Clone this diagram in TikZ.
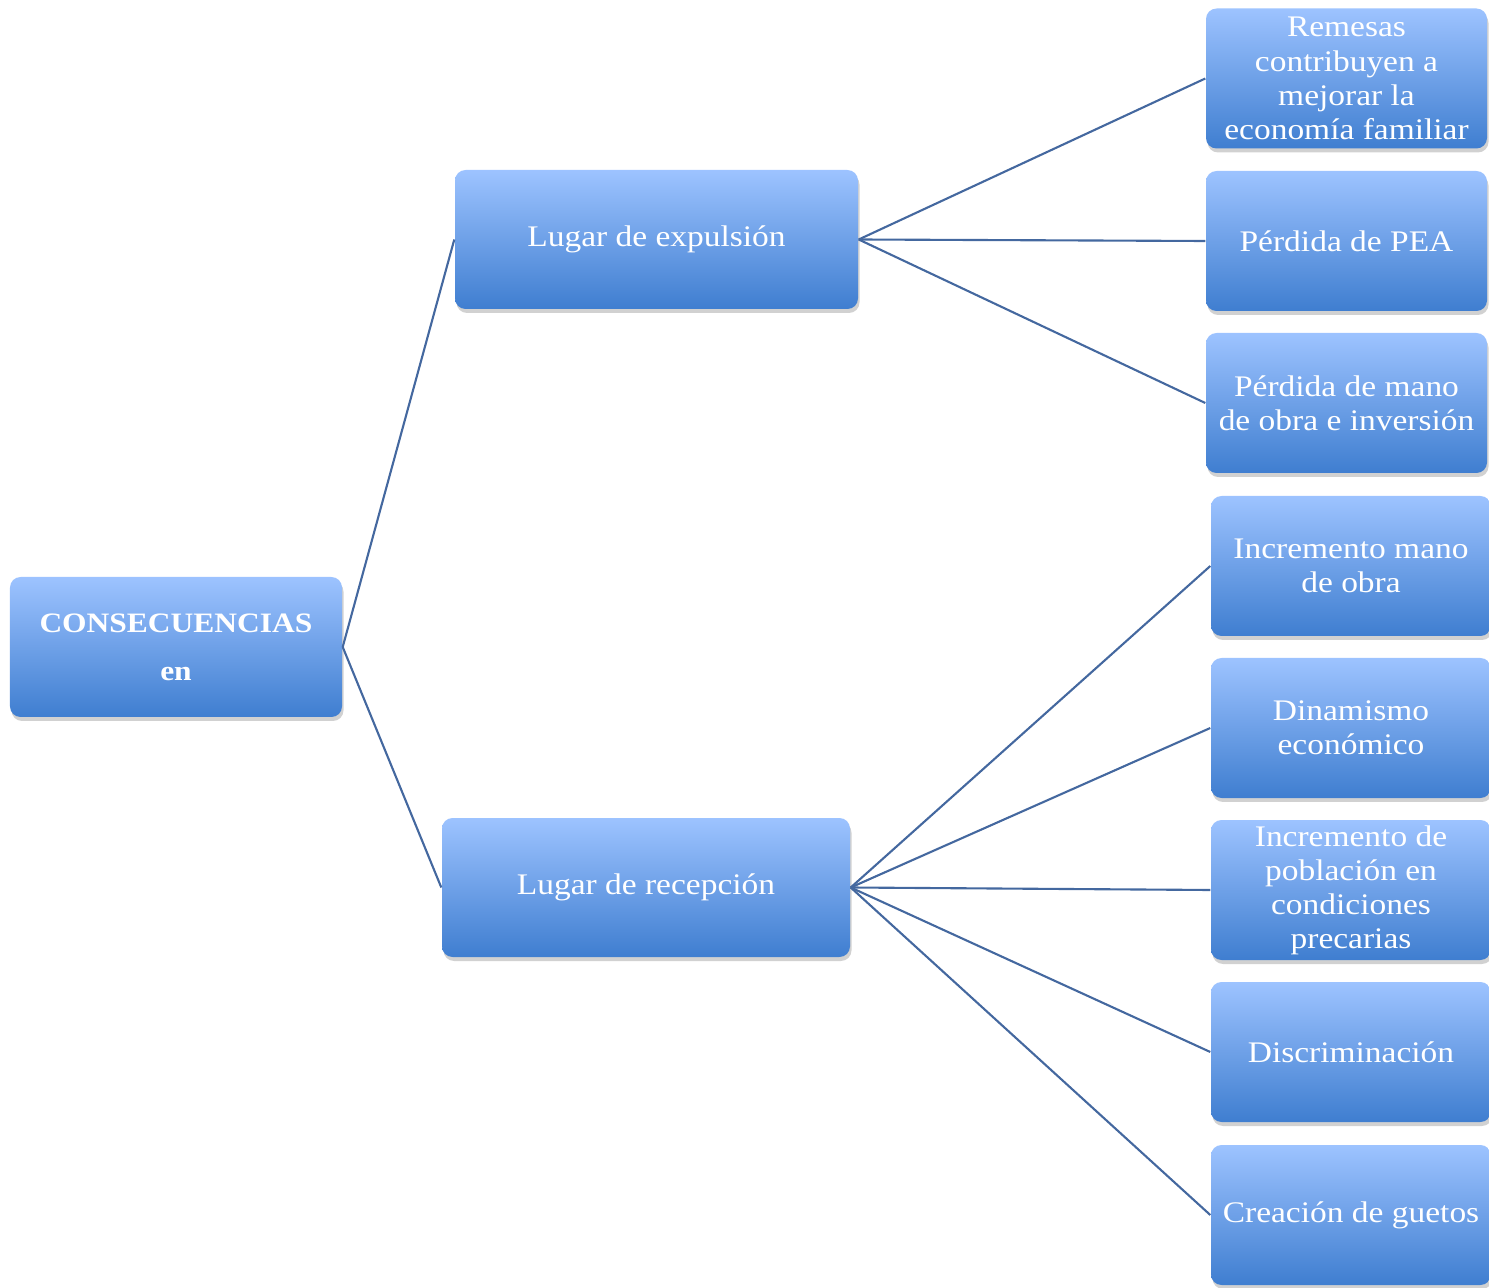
\documentclass[tikz,border=0pt]{standalone}
\usepackage{fontspec}
\setmainfont[FakeStretch=1.12]{Liberation Serif}
\usepackage{xcolor}
\usetikzlibrary{positioning,shadows}

\definecolor{boxTop}{HTML}{9DC3FF}
\definecolor{boxBot}{HTML}{3F7ED0}
\definecolor{lnk}{HTML}{44689F}

\begin{document}
\begin{tikzpicture}[every node/.style={rounded corners=3pt, top color=boxTop, bottom color=boxBot,
        text=white, align=center, inner sep=1pt, minimum height=1.4cm, minimum width=2.81cm,
        drop shadow={opacity=.18, shadow xshift=.015, shadow yshift=-.04, fill=black},
        font=\fontsize{8.5}{9.7}\selectfont},
    lk/.style={draw=lnk, line width=.6pt}]
        \useasboundingbox (0,0) rectangle (14.89,-12.88);

        \node (bC) [minimum width=3.32cm, font=\fontsize{8}{13.7}\selectfont\bfseries] at (1.76,-6.47) {CONSECUENCIAS\\en};

        \node (bE) [minimum width=4.03cm, minimum height=1.39cm] at (6.565,-2.395) {Lugar de expulsión};
        \node (bR) [minimum width=4.08cm, minimum height=1.39cm] at (6.46,-8.875) {Lugar de recepción};

        \node (bE1) at (13.465,-0.785) {Remesas\\contribuyen a\\mejorar la\\economía familiar};
        \node (bE2) at (13.465,-2.41) {Pérdida de PEA};
        \node (bE3) at (13.465,-4.03) {Pérdida de mano\\de obra e inversión};

        \node (bR1) [minimum width=2.8cm] at (13.51,-5.66) {Incremento mano\\de obra};
        \node (bR2) [minimum width=2.8cm] at (13.51,-7.28) {Dinamismo\\económico};
        \node (bR3) [minimum width=2.8cm] at (13.51,-8.90) {Incremento de\\población en\\condiciones\\precarias};
        \node (bR4) [minimum width=2.8cm] at (13.51,-10.52) {Discriminación};
        \node (bR5) [minimum width=2.8cm] at (13.51,-12.15) {Creación de guetos};

        \draw[lk] (bC.east) -- (bE.west);
        \draw[lk] (bC.east) -- (bR.west);
        \draw[lk] (bE.east) -- (bE1.west);
        \draw[lk] (bE.east) -- (bE2.west);
        \draw[lk] (bE.east) -- (bE3.west);
        \draw[lk] (bR.east) -- (bR1.west);
        \draw[lk] (bR.east) -- (bR2.west);
        \draw[lk] (bR.east) -- (bR3.west);
        \draw[lk] (bR.east) -- (bR4.west);
        \draw[lk] (bR.east) -- (bR5.west);
    \end{tikzpicture}
\end{document}
